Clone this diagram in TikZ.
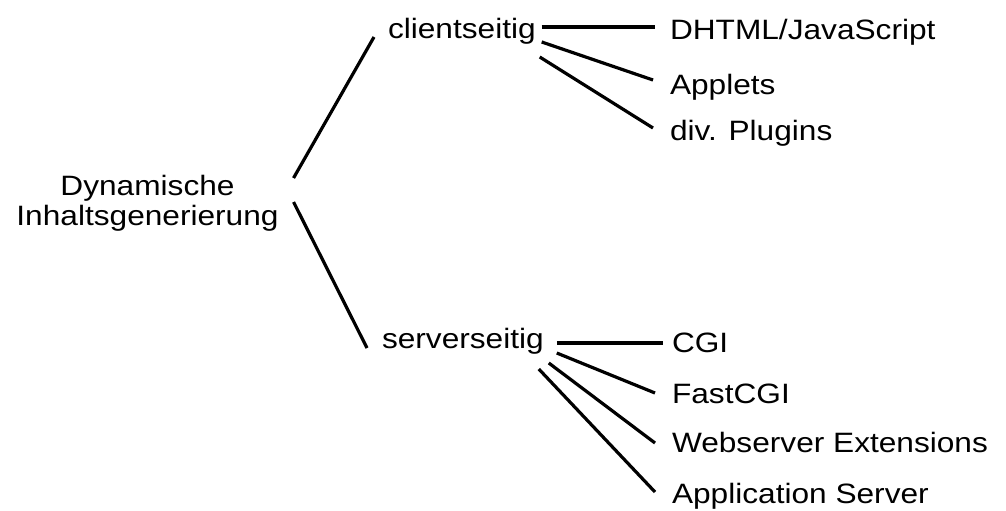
\documentclass[tikz,border=0pt]{standalone}
\usepackage{fontspec}
\setmainfont[FakeStretch=1.13]{Liberation Sans}
\begin{document}
\begin{tikzpicture}[x=1pt,y=-1pt,
  lbl/.style={inner sep=0pt,outer sep=0pt,anchor=base west,font=\fontsize{28}{30}\selectfont},
  conn/.style={line width=3.2pt,black}]
\useasboundingbox (0,0) rectangle (1006,511);
% nodes
\node[lbl,anchor=base,align=center] (root) at (147.5,225) {Dynamische\\Inhaltsgenerierung};
\node[lbl] (cl) at (388,38) {clientseitig};
\node[lbl] (sv) at (382,348) {serverseitig};
\node[lbl] (dhtml) at (670,40) {DHTML/JavaScript};
\node[lbl] (applets) at (670,94) {Applets};
\node[lbl] (plugins) at (670,140) {div. Plugins};
\node[lbl] (cgi) at (672,352) {CGI};
\node[lbl] (fcgi) at (672,403) {FastCGI};
\node[lbl] (wse) at (672,452) {Webserver Extensions};
\node[lbl] (as) at (672,503) {Application Server};
% connectors
\draw[conn] ([shift={(15,-47)}]root.base east) -- ([shift={(-14,-1)}]cl.base west);
\draw[conn] ([shift={(15,-23)}]root.base east) -- ([shift={(-15,0)}]sv.base west);
\draw[conn] ([shift={(6,-11)}]cl.base east) -- ([shift={(-15,-13)}]dhtml.base west);
\draw[conn] ([shift={(6,4)}]cl.base east) -- ([shift={(-17,-14)}]applets.base west);
\draw[conn] ([shift={(4,19)}]cl.base east) -- ([shift={(-17,-12)}]plugins.base west);
\draw[conn] ([shift={(13,-5)}]sv.base east) -- ([shift={(-9,-9)}]cgi.base west);
\draw[conn] ([shift={(13,5)}]sv.base east) -- ([shift={(-17,-10)}]fcgi.base west);
\draw[conn] ([shift={(5,15)}]sv.base east) -- ([shift={(-17,-9)}]wse.base west);
\draw[conn] ([shift={(-5,21)}]sv.base east) -- ([shift={(-17,-11)}]as.base west);
\end{tikzpicture}
\end{document}
